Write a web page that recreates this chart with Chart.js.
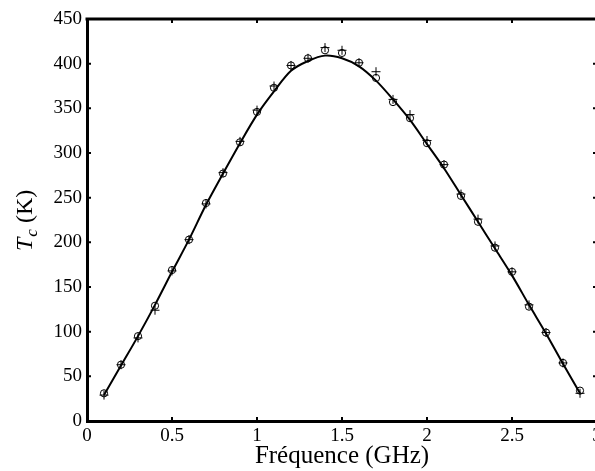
<!DOCTYPE html>
<html>
<head>
<meta charset="utf-8">
<script src="https://cdn.jsdelivr.net/npm/chart.js@4/dist/chart.umd.min.js"></script>
<style>
html,body{margin:0;padding:0;background:#fff;overflow:hidden;}
#wrap{width:620px;height:471px;}
</style>
</head>
<body>
<div id="wrap"><canvas id="c" width="620" height="471"></canvas></div>
<script>
const freq      = [0.1,0.2,0.3,0.4,0.5,0.6,0.7,0.8,0.9,1.0,1.1,1.2,1.3,1.4,1.5,1.6,1.7,1.8,1.9,2.0,2.1,2.2,2.3,2.4,2.5,2.6,2.7,2.8,2.9];
const tcCircle  = [31,63,95,129,169,203,244,277,312,346,373,398,406,415,412,401,384,357,339,311,287,252,223,194,167,128,99,65,34];
const tcPlus    = [29,63,93,124,168,203,243,278,313,348,375,398,406,418,415,401,391,360,343,314,287,254,226,196,167,130,99,65,31];
const tcModel   = [29,62,95,130,167,203,242,277,311,343,369,392,403,409,406,397,381,360,337,310,283,253,223,193,163,130,98,64,31];
const xTicks    = [0,0.5,1,1.5,2,2.5,3];
const xTickText = ['0','0.5','1','1.5','2','2.5','3'];
const yTicks    = [0,50,100,150,200,250,300,350,400,450];
const xTitle    = 'Fréquence (GHz)';
const yTitleMain = 'T', yTitleSub = 'c', yTitleUnit = ' (K)';

const toXY = arr => freq.map((f,i)=>({x:f,y:arr[i]}));
const serif = '"Liberation Serif","Times New Roman",serif';

const frame = {
  id:'frame',
  afterDraw(chart){
    const {ctx, chartArea:a, scales:{x,y}} = chart;
    ctx.save();
    ctx.strokeStyle='#000';
    ctx.lineWidth=3;
    ctx.beginPath();
    ctx.moveTo(a.left-1.5,a.top); ctx.lineTo(a.right+1.5,a.top);
    ctx.moveTo(a.right,a.top); ctx.lineTo(a.right,a.bottom);
    ctx.stroke();
    ctx.lineWidth=2;
    ctx.beginPath();
    yTicks.forEach(v=>{
      const py=y.getPixelForValue(v);
      ctx.moveTo(a.left,py); ctx.lineTo(a.left+4,py);
      ctx.moveTo(a.right,py); ctx.lineTo(a.right-4,py);
    });
    xTicks.forEach(v=>{
      const px=x.getPixelForValue(v);
      ctx.moveTo(px,a.bottom); ctx.lineTo(px,a.bottom-4);
      ctx.moveTo(px,a.top); ctx.lineTo(px,a.top+4);
    });
    ctx.stroke();
    // y title: italic T with subscript c
    ctx.fillStyle='#000';
    ctx.translate(32,(a.top+a.bottom)/2+31);
    ctx.rotate(-Math.PI/2);
    ctx.textBaseline='alphabetic';
    ctx.textAlign='left';
    ctx.font='italic 24px '+serif;
    ctx.fillText(yTitleMain,0,0);
    let w=ctx.measureText(yTitleMain).width;
    ctx.font='italic 17px '+serif;
    ctx.fillText(yTitleSub,w+1,5);
    w+=1+ctx.measureText(yTitleSub).width;
    ctx.font='24px '+serif;
    ctx.fillText(yTitleUnit,w,0);
    ctx.restore();
  }
};

new Chart(document.getElementById('c'),{
  type:'line',
  data:{
    datasets:[
      {label:'modèle',data:toXY(tcModel),borderColor:'#000',borderWidth:2,pointRadius:0,tension:0.3,fill:false,order:3},
      {label:'o',data:toXY(tcCircle),showLine:false,pointStyle:'circle',pointRadius:3.6,pointBorderWidth:1,pointBorderColor:'#000',pointBackgroundColor:'rgba(0,0,0,0)',order:2},
      {label:'+',data:toXY(tcPlus),showLine:false,pointStyle:'cross',pointRadius:4.5,pointBorderWidth:1,pointBorderColor:'#000',order:1}
    ]
  },
  options:{
    responsive:false,
    animation:false,
    events:[],
    layout:{padding:{top:19,right:23,left:0,bottom:0}},
    plugins:{legend:{display:false},tooltip:{enabled:false}},
    scales:{
      x:{
        type:'linear',min:0,max:3,
        afterBuildTicks:s=>{s.ticks=xTicks.map(v=>({value:v}));},
        afterFit:s=>{s.height=50;},
        grid:{display:true,drawOnChartArea:false,drawTicks:false},
        border:{display:true,color:'#000',width:3},
        ticks:{color:'#000',padding:4,maxRotation:0,autoSkip:false,font:{family:serif,size:19},
          callback:(v)=>{const i=xTicks.indexOf(v);return i>=0?xTickText[i]:'';}},
        title:{display:true,text:xTitle,color:'#000',font:{family:serif,size:25},padding:{top:0,bottom:0}}
      },
      y:{
        type:'linear',min:0,max:450,
        afterBuildTicks:s=>{s.ticks=yTicks.map(v=>({value:v}));},
        afterFit:s=>{s.width=87;},
        grid:{display:true,drawOnChartArea:false,drawTicks:false},
        border:{display:true,color:'#000',width:3},
        ticks:{color:'#000',padding:5,autoSkip:false,font:{family:serif,size:19}}
      }
    }
  },
  plugins:[frame]
});
</script>
</body>
</html>
